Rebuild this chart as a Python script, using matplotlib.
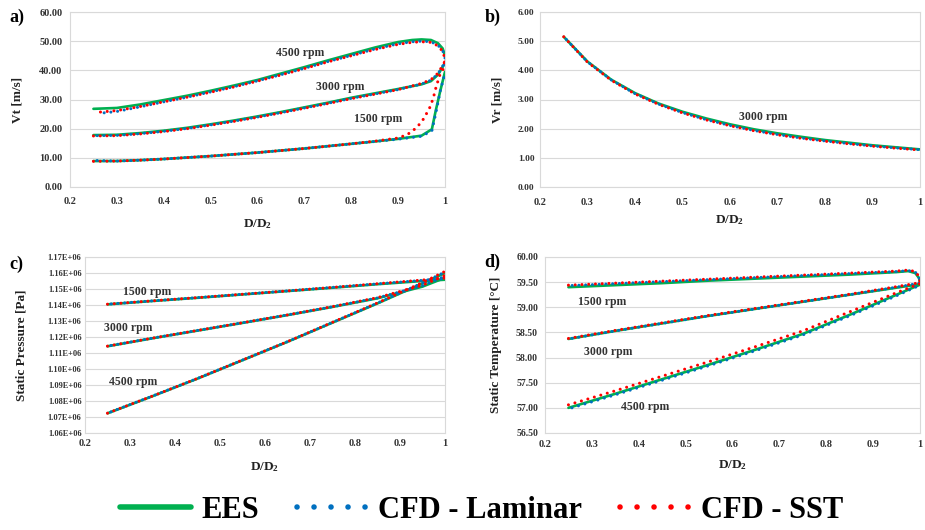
import matplotlib
matplotlib.use("Agg")
import matplotlib.pyplot as plt
from matplotlib.lines import Line2D
from matplotlib.ticker import FixedLocator, FuncFormatter

plt.rcParams['font.family'] = ['Liberation Serif', 'DejaVu Serif']
plt.rcParams['font.weight'] = 'bold'
plt.rcParams['mathtext.fontset'] = 'custom'
plt.rcParams['mathtext.rm'] = 'Liberation Serif:bold'
plt.rcParams['mathtext.it'] = 'Liberation Serif:bold'
plt.rcParams['mathtext.bf'] = 'Liberation Serif:bold'

# ---------------- data ----------------
# Panel a) tangential velocity Vt [m/s]
a_x_4500 = [0.25, 0.3, 0.35, 0.4, 0.45, 0.5, 0.55, 0.6, 0.65, 0.7, 0.75, 0.8, 0.85, 0.9, 0.93, 0.95, 0.97, 0.985, 0.995, 1.0]
a_ees_4500 = [26.8, 27.1, 28.3, 29.8, 31.3, 33.0, 34.8, 36.7, 38.9, 41.1, 43.4, 45.6, 47.8, 49.7, 50.4, 50.6, 50.4, 49.3, 47.5, 45.0]
a_x_4500_cfd = [0.265, 0.3, 0.35, 0.4, 0.45, 0.5, 0.55, 0.6, 0.65, 0.7, 0.75, 0.8, 0.85, 0.9, 0.93, 0.95, 0.97, 0.985, 0.995, 1.0, 0.998]
a_lam_4500 = [25.3, 25.9, 27.5, 29.2, 30.8, 32.6, 34.4, 36.4, 38.5, 40.7, 43.0, 45.1, 47.3, 49.1, 49.8, 50.0, 49.8, 48.6, 46.8, 44.3, 41.0]
a_sst_4500 = [25.7, 26.2, 27.6, 29.2, 30.8, 32.5, 34.3, 36.3, 38.4, 40.6, 42.9, 45.0, 47.1, 48.9, 49.6, 49.8, 49.6, 48.4, 46.5, 44.0, 41.0]

a_x_3000 = [0.25, 0.3, 0.35, 0.4, 0.45, 0.5, 0.55, 0.6, 0.65, 0.7, 0.75, 0.8, 0.85, 0.9, 0.95, 0.97, 0.985, 1.0]
a_ees_3000 = [17.8, 17.9, 18.5, 19.3, 20.3, 21.5, 22.8, 24.2, 25.7, 27.3, 28.9, 30.6, 32.1, 33.6, 35.2, 36.3, 38.5, 42.5]
a_lam_3000 = [17.6, 17.7, 18.3, 19.1, 20.1, 21.3, 22.6, 24.0, 25.5, 27.1, 28.7, 30.4, 31.9, 33.4, 35.3, 36.6, 38.8, 42.8]
a_sst_3000 = [17.5, 17.6, 18.2, 19.0, 20.0, 21.2, 22.5, 23.9, 25.4, 27.0, 28.6, 30.3, 31.8, 33.4, 35.5, 36.8, 39.0, 43.0]

a_x_1500 = [0.25, 0.3, 0.35, 0.4, 0.45, 0.5, 0.55, 0.6, 0.65, 0.7, 0.75, 0.8, 0.85, 0.9, 0.95, 0.972, 0.98, 0.99, 1.0]
a_ees_1500 = [8.9, 8.9, 9.2, 9.6, 10.1, 10.6, 11.2, 11.8, 12.5, 13.2, 14.0, 14.8, 15.6, 16.5, 17.6, 19.8, 26.0, 33.0, 39.5]
a_lam_1500 = [9.1, 8.9, 9.2, 9.6, 10.1, 10.6, 11.2, 11.8, 12.5, 13.2, 14.0, 14.8, 15.6, 16.4, 17.4, 19.3, 25.0, 33.0, 39.0]
a_x_1500_sst = [0.25, 0.3, 0.35, 0.4, 0.45, 0.5, 0.55, 0.6, 0.65, 0.7, 0.75, 0.8, 0.85, 0.9, 0.92, 0.94, 0.955, 0.968, 0.975, 0.981, 0.989, 1.0]
a_sst_1500 = [8.8, 8.9, 9.2, 9.6, 10.1, 10.6, 11.2, 11.8, 12.5, 13.2, 14.0, 14.8, 15.7, 16.8, 18.0, 20.4, 23.5, 27.4, 30.5, 34.3, 38.4, 41.5]

# Panel b) radial velocity Vr [m/s], 3000 rpm
b_x = [0.25, 0.3, 0.35, 0.4, 0.45, 0.5, 0.55, 0.6, 0.65, 0.7, 0.75, 0.8, 0.85, 0.9, 0.95, 1.0]
b_ees = [5.15, 4.30, 3.68, 3.22, 2.86, 2.58, 2.35, 2.15, 1.98, 1.84, 1.72, 1.61, 1.52, 1.43, 1.36, 1.29]
b_lam = [5.15, 4.29, 3.67, 3.20, 2.84, 2.55, 2.31, 2.11, 1.94, 1.80, 1.68, 1.58, 1.49, 1.41, 1.34, 1.28]
b_sst = [5.15, 4.28, 3.66, 3.19, 2.83, 2.54, 2.30, 2.10, 1.93, 1.79, 1.67, 1.57, 1.48, 1.40, 1.33, 1.27]

# Panel c) static pressure [Pa]
c_x = [0.25, 0.35, 0.45, 0.55, 0.65, 0.75, 0.85, 0.95, 1.0]
c_ees_1500 = [1.1404e6, 1.1425e6, 1.1445e6, 1.1466e6, 1.1487e6, 1.1508e6, 1.1530e6, 1.1550e6, 1.1558e6]
c_lam_1500 = [1.1405e6, 1.1426e6, 1.1446e6, 1.1467e6, 1.1488e6, 1.1510e6, 1.1532e6, 1.1554e6, 1.1565e6]
c_sst_1500 = [1.1405e6, 1.1426e6, 1.1446e6, 1.1467e6, 1.1488e6, 1.1510e6, 1.1533e6, 1.1556e6, 1.1568e6]
c_ees_3000 = [1.1142e6, 1.1192e6, 1.1240e6, 1.1288e6, 1.1337e6, 1.1388e6, 1.1442e6, 1.1515e6, 1.1570e6]
c_lam_3000 = [1.1143e6, 1.1193e6, 1.1241e6, 1.1289e6, 1.1338e6, 1.1389e6, 1.1444e6, 1.1520e6, 1.1580e6]
c_sst_3000 = [1.1143e6, 1.1193e6, 1.1241e6, 1.1289e6, 1.1338e6, 1.1390e6, 1.1446e6, 1.1523e6, 1.1585e6]
c_ees_4500 = [1.0723e6, 1.0830e6, 1.0940e6, 1.1055e6, 1.1170e6, 1.1290e6, 1.1410e6, 1.1535e6, 1.1600e6]
c_lam_4500 = [1.0724e6, 1.0831e6, 1.0941e6, 1.1056e6, 1.1171e6, 1.1291e6, 1.1412e6, 1.1538e6, 1.1606e6]
c_sst_4500 = [1.0724e6, 1.0831e6, 1.0941e6, 1.1056e6, 1.1171e6, 1.1292e6, 1.1413e6, 1.1540e6, 1.1610e6]

# Panel d) static temperature [°C]
d_x_1500 = [0.25, 0.35, 0.45, 0.55, 0.65, 0.75, 0.85, 0.95, 0.975, 0.99, 0.998, 1.0]
d_ees_1500 = [59.40, 59.44, 59.48, 59.53, 59.57, 59.61, 59.65, 59.70, 59.72, 59.68, 59.58, 59.48]
d_lam_1500 = [59.43, 59.47, 59.51, 59.55, 59.59, 59.63, 59.67, 59.71, 59.73, 59.70, 59.60, 59.50]
d_sst_1500 = [59.44, 59.48, 59.52, 59.56, 59.60, 59.64, 59.68, 59.72, 59.74, 59.71, 59.61, 59.51]
d_x = [0.25, 0.35, 0.45, 0.55, 0.65, 0.75, 0.85, 0.95, 1.0]
d_ees_3000 = [58.37, 58.53, 58.68, 58.83, 58.97, 59.11, 59.25, 59.39, 59.46]
d_lam_3000 = [58.37, 58.53, 58.68, 58.83, 58.97, 59.11, 59.25, 59.40, 59.48]
d_sst_3000 = [58.38, 58.54, 58.69, 58.84, 58.98, 59.12, 59.26, 59.41, 59.49]
d_ees_4500 = [57.00, 57.28, 57.57, 57.86, 58.16, 58.47, 58.85, 59.25, 59.45]
d_lam_4500 = [56.98, 57.26, 57.55, 57.84, 58.14, 58.45, 58.83, 59.23, 59.44]
d_sst_4500 = [57.06, 57.34, 57.63, 57.92, 58.22, 58.53, 58.91, 59.29, 59.47]

x_ticks = [0.2, 0.3, 0.4, 0.5, 0.6, 0.7, 0.8, 0.9, 1.0]
a_yticks = [0, 10, 20, 30, 40, 50, 60]
b_yticks = [0, 1, 2, 3, 4, 5, 6]
c_yticks = [1.06e6, 1.07e6, 1.08e6, 1.09e6, 1.10e6, 1.11e6, 1.12e6, 1.13e6, 1.14e6, 1.15e6, 1.16e6, 1.17e6]
d_yticks = [56.5, 57.0, 57.5, 58.0, 58.5, 59.0, 59.5, 60.0]

legend_labels = ['EES', 'CFD - Laminar', 'CFD - SST']

# ---------------- style ----------------
GREEN = '#00B050'
BLUE = '#0070C0'
RED = '#FF0000'
GRID = '#D9D9D9'
W, H = 925, 530

fig = plt.figure(figsize=(9.25, 5.3), dpi=100)

def px_axes(l, r, t, b):
    return fig.add_axes([l / W, 1 - b / H, (r - l) / W, (b - t) / H])

def ees(ax, x, y):
    ax.plot(x, y, color=GREEN, lw=1.9, solid_capstyle='round', zorder=3)

def dots(ax, x, y, color, off=0.0, z=4):
    ax.plot(x, y, color=color, lw=2.2, linestyle=(off, (0.01, 2.2)),
            dash_capstyle='round', zorder=z)

def style(ax, yticks, yfmt, ytick_fs, ylabel, ypad, xpad, ylab_x, xlab_y):
    ax.set_xlim(0.2, 1.0)
    ax.set_ylim(yticks[0], yticks[-1])
    ax.xaxis.set_major_locator(FixedLocator(x_ticks))
    ax.yaxis.set_major_locator(FixedLocator(yticks))
    ax.xaxis.set_major_formatter(FuncFormatter(lambda v, p: '%g' % round(v, 2)))
    ax.yaxis.set_major_formatter(FuncFormatter(yfmt))
    ax.grid(axis='y', color=GRID, lw=0.8, zorder=0)
    ax.set_axisbelow(True)
    for s in ax.spines.values():
        s.set_color(GRID)
        s.set_linewidth(0.8)
    ax.tick_params(axis='y', length=0, pad=ypad, labelsize=ytick_fs, colors='#333333')
    ax.tick_params(axis='x', length=0, pad=xpad, labelsize=7.5, colors='#333333')
    for lab in ax.get_xticklabels() + ax.get_yticklabels():
        lab.set_fontweight('bold')
    ax.set_ylabel(ylabel, fontsize=9.5, fontweight='bold', color='#222222')
    ax.set_xlabel(r'D/D$_2$', fontsize=9.5, fontweight='bold', color='#222222')
    ax.yaxis.set_label_coords(ylab_x, 0.5)
    ax.xaxis.set_label_coords(0.5, xlab_y)

def ann(ax, x, y, s):
    ax.text(x, y, s, fontsize=8.5, fontweight='bold', ha='center', va='center',
            color='#333333', zorder=6)

# ---- panel a
ax = px_axes(70, 445, 12, 187)
for xe, ye in [(a_x_4500, a_ees_4500), (a_x_3000, a_ees_3000), (a_x_1500, a_ees_1500)]:
    ees(ax, xe, ye)
dots(ax, a_x_4500_cfd, a_lam_4500, BLUE, 1.0)
dots(ax, a_x_3000, a_lam_3000, BLUE, 1.0)
dots(ax, a_x_1500, a_lam_1500, BLUE, 1.0)
dots(ax, a_x_4500_cfd, a_sst_4500, RED, 0.0, 5)
dots(ax, a_x_3000, a_sst_3000, RED, 0.0, 5)
dots(ax, a_x_1500_sst, a_sst_1500, RED, 0.0, 5)
style(ax, a_yticks, lambda v, p: '%.2f' % v, 7.5, 'Vt [m/s]', 5.5, 7.0, -0.125, -0.175)
ann(ax, 0.69, 46.0, '4500 rpm')
ann(ax, 0.776, 34.3, '3000 rpm')
ann(ax, 0.857, 23.3, '1500 rpm')

# ---- panel b
ax = px_axes(540, 920, 12, 187)
ees(ax, b_x, b_ees)
dots(ax, b_x, b_lam, BLUE, 1.0)
dots(ax, b_x, b_sst, RED, 0.0, 5)
style(ax, b_yticks, lambda v, p: '%.2f' % v, 6.8, 'Vr [m/s]', 3.8, 8.0, -0.095, -0.15)
ann(ax, 0.669, 2.4, '3000 rpm')

# ---- panel c
ax = px_axes(85, 445, 257, 433)
for ye in [c_ees_1500, c_ees_3000, c_ees_4500]:
    ees(ax, c_x, ye)
for ye in [c_lam_1500, c_lam_3000, c_lam_4500]:
    dots(ax, c_x, ye, BLUE, 1.0)
for ye in [c_sst_1500, c_sst_3000, c_sst_4500]:
    dots(ax, c_x, ye, RED, 0.0, 5)
def sci(v, p):
    m = v / 1e6
    return ('%.2fE+06' % m)
style(ax, c_yticks, sci, 6.0, 'Static Pressure [Pa]', 2.5, 4.5, -0.16, -0.155)
ann(ax, 0.337, 1.1481e6, '1500 rpm')
ann(ax, 0.296, 1.1256e6, '3000 rpm')
ann(ax, 0.307, 1.0919e6, '4500 rpm')

# ---- panel d
ax = px_axes(545, 920, 257, 433)
ees(ax, d_x_1500, d_ees_1500)
ees(ax, d_x, d_ees_3000)
ees(ax, d_x, d_ees_4500)
dots(ax, d_x_1500, d_lam_1500, BLUE, 1.0)
dots(ax, d_x, d_lam_3000, BLUE, 1.0)
dots(ax, d_x, d_lam_4500, BLUE, 1.0)
dots(ax, d_x_1500, d_sst_1500, RED, 0.0, 5)
dots(ax, d_x, d_sst_3000, RED, 0.0, 5)
dots(ax, d_x, d_sst_4500, RED, 0.0, 5)
style(ax, d_yticks, lambda v, p: '%.2f' % v, 7.0, 'Static Temperature [°C]', 5.0, 5.0, -0.115, -0.145)
ann(ax, 0.322, 59.105, '1500 rpm')
ann(ax, 0.334, 58.11, '3000 rpm')
ann(ax, 0.413, 57.02, '4500 rpm')

# ---- panel letters
for (px, py, s) in [(17, 17, 'a)'), (493, 17, 'b)'), (16, 264, 'c)'), (492, 262, 'd)')]:
    fig.text(px / W, 1 - py / H, s, fontsize=13, fontweight='bold', ha='center', va='center')

# ---- legend
handles = [
    Line2D([], [], color=GREEN, lw=4.0, solid_capstyle='round'),
    Line2D([], [], color=BLUE, lw=4.0, linestyle=(0, (0.01, 3.05)), dash_capstyle='round'),
    Line2D([], [], color=RED, lw=4.0, linestyle=(0, (0.01, 3.05)), dash_capstyle='round'),
]
fig.legend(handles, legend_labels, loc='center', bbox_to_anchor=(482 / W, 1 - 510 / H),
           ncol=3, frameon=False, prop={'family': 'Liberation Serif', 'weight': 'bold', 'size': 22},
           handlelength=2.3, handletextpad=0.35, columnspacing=1.25, borderpad=0)

fig.savefig('out.png', dpi=100)
